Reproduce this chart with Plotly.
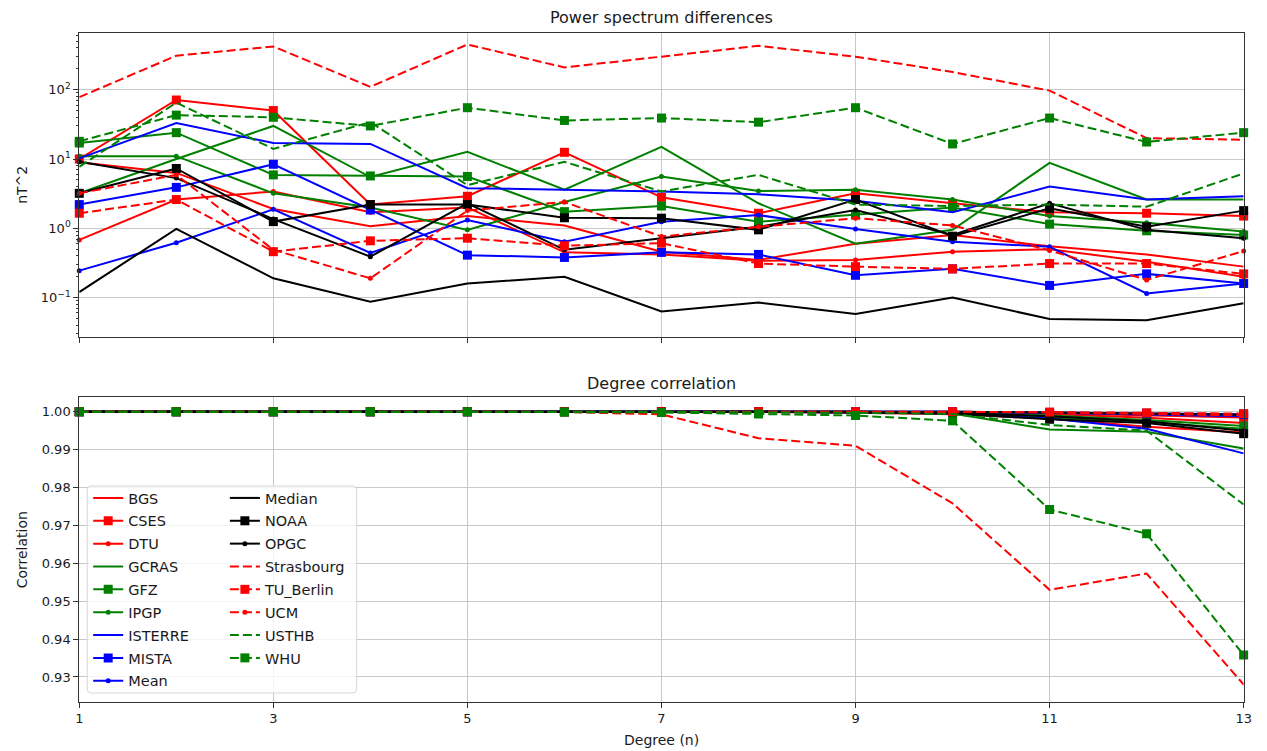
import plotly.graph_objects as go

degrees = list(range(1, 14))
x_ticks = [1, 3, 5, 7, 9, 11, 13]

centers = ["BGS", "CSES", "DTU", "GCRAS", "GFZ", "IPGP", "ISTERRE", "MISTA", "Mean",
           "Median", "NOAA", "OPGC", "Strasbourg", "TU_Berlin", "UCM", "USTHB", "WHU"]

# Power spectrum differences (nT^2) per degree 1..13
psd_BGS = [9.0, 6.3, 1.9, 1.07, 1.5, 1.1, 0.46, 0.35, 0.6, 0.8, 0.55, 0.42, 0.28]
psd_CSES = [10.0, 71, 50, 2.2, 2.9, 12.5, 2.8, 1.65, 3.2, 2.3, 1.7, 1.65, 1.5]
psd_DTU = [0.68, 2.6, 3.4, 1.7, 2.0, 0.45, 0.42, 0.34, 0.35, 0.46, 0.5, 0.33, 0.2]
psd_GCRAS = [3.2, 10, 30, 5.5, 12.7, 3.6, 15, 2.3, 0.6, 0.95, 8.8, 2.6, 2.6]
psd_GFZ = [17, 24, 5.9, 5.7, 5.6, 1.74, 2.1, 1.24, 1.56, 2.0, 1.15, 0.92, 0.8]
psd_IPGP = [11, 11, 3.2, 2.0, 0.95, 2.4, 5.6, 3.45, 3.6, 2.6, 1.5, 1.2, 0.9]
psd_ISTERRE = [10.2, 33, 17, 16.5, 3.8, 3.6, 3.4, 3.1, 2.5, 1.7, 4.0, 2.6, 2.9]
psd_MISTA = [2.2, 3.9, 8.4, 1.84, 0.41, 0.38, 0.45, 0.42, 0.21, 0.26, 0.15, 0.22, 0.16]
psd_Mean = [0.245, 0.62, 1.88, 0.44, 1.32, 0.64, 1.24, 1.55, 0.98, 0.64, 0.54, 0.115, 0.16]
psd_Median = [0.12, 0.98, 0.19, 0.087, 0.16, 0.2, 0.063, 0.085, 0.058, 0.10, 0.049, 0.047, 0.083]
psd_NOAA = [3.2, 7.3, 1.25, 2.2, 2.2, 1.42, 1.4, 0.95, 2.6, 0.77, 1.94, 1.05, 1.8]
psd_OPGC = [9.1, 5.3, 1.36, 0.39, 2.3, 0.49, 0.72, 1.05, 1.84, 0.8, 2.3, 0.95, 0.72]
psd_Strasbourg = [78, 310, 420, 110, 450, 210, 300, 430, 300, 180, 97, 20, 19]
psd_TU_Berlin = [1.65, 2.6, 0.46, 0.66, 0.72, 0.56, 0.61, 0.31, 0.28, 0.26, 0.31, 0.31, 0.22]
psd_UCM = [3.2, 5.9, 0.49, 0.19, 1.8, 2.4, 0.76, 1.05, 1.4, 1.1, 0.48, 0.18, 0.47]
psd_USTHB = [7.7, 65, 14, 34, 4.2, 9.1, 3.4, 5.9, 2.2, 2.1, 2.2, 2.05, 6.2]
psd_WHU = [18, 43, 40, 30, 55, 36, 39, 34, 55, 16.5, 39, 17.6, 24]

# Degree correlation per degree 1..13
corr_BGS = [1, 1, 1, 1, 1, 1, 1, 0.9999, 0.9997, 0.9993, 0.9982, 0.9960, 0.9945]
corr_CSES = [1, 1, 1, 1, 1, 1, 1, 1, 1, 0.9999, 0.9996, 0.9990, 0.9985]
corr_DTU = [1, 1, 1, 1, 1, 1, 1, 1, 1, 0.9998, 0.9994, 0.9984, 0.9970]
corr_GCRAS = [1, 1, 1, 1, 1, 1, 1, 1, 0.9999, 0.9995, 0.9953, 0.9947, 0.9903]
corr_GFZ = [1, 1, 1, 1, 1, 1, 1, 1, 1, 0.9999, 0.9990, 0.9978, 0.9962]
corr_IPGP = [1, 1, 1, 1, 1, 1, 1, 1, 1, 0.9998, 0.9985, 0.9972, 0.9955]
corr_ISTERRE = [1, 1, 1, 1, 1, 1, 1, 1, 0.9998, 0.9995, 0.9982, 0.9955, 0.9890]
corr_MISTA = [1, 1, 1, 1, 1, 1, 1, 1, 1, 1, 0.9998, 0.9996, 0.9993]
corr_Mean = [1, 1, 1, 1, 1, 1, 1, 1, 1, 1, 0.9997, 0.9993, 0.9988]
corr_Median = [1, 1, 1, 1, 1, 1, 1, 1, 1, 1, 0.9998, 0.9995, 0.9992]
corr_NOAA = [1, 1, 1, 1, 1, 1, 1, 1, 0.9998, 0.9995, 0.9980, 0.9970, 0.9942]
corr_OPGC = [1, 1, 1, 1, 1, 1, 1, 1, 1, 0.9997, 0.9988, 0.9975, 0.9950]
corr_Strasbourg = [1, 1, 1, 1, 1, 0.9999, 0.9993, 0.9930, 0.9910, 0.9758, 0.9530, 0.9573, 0.9280]
corr_TU_Berlin = [1, 1, 1, 1, 1, 1, 1, 1, 1, 1, 0.9999, 0.9997, 0.9995]
corr_UCM = [1, 1, 1, 1, 1, 1, 1, 1, 1, 1, 0.9998, 0.9994, 0.9990]
corr_USTHB = [1, 1, 1, 1, 1, 1, 1, 0.9998, 0.9997, 0.9994, 0.9965, 0.9950, 0.9755]
corr_WHU = [1, 1, 1, 1, 1, 0.9999, 0.9998, 0.9994, 0.9990, 0.9976, 0.9742, 0.9678, 0.9358]

psd = {"BGS": psd_BGS, "CSES": psd_CSES, "DTU": psd_DTU, "GCRAS": psd_GCRAS, "GFZ": psd_GFZ,
       "IPGP": psd_IPGP, "ISTERRE": psd_ISTERRE, "MISTA": psd_MISTA, "Mean": psd_Mean,
       "Median": psd_Median, "NOAA": psd_NOAA, "OPGC": psd_OPGC, "Strasbourg": psd_Strasbourg,
       "TU_Berlin": psd_TU_Berlin, "UCM": psd_UCM, "USTHB": psd_USTHB, "WHU": psd_WHU}
corr = {"BGS": corr_BGS, "CSES": corr_CSES, "DTU": corr_DTU, "GCRAS": corr_GCRAS, "GFZ": corr_GFZ,
        "IPGP": corr_IPGP, "ISTERRE": corr_ISTERRE, "MISTA": corr_MISTA, "Mean": corr_Mean,
        "Median": corr_Median, "NOAA": corr_NOAA, "OPGC": corr_OPGC, "Strasbourg": corr_Strasbourg,
        "TU_Berlin": corr_TU_Berlin, "UCM": corr_UCM, "USTHB": corr_USTHB, "WHU": corr_WHU}

RED, GREEN, BLUE, BLACK = "#ff0000", "#008000", "#0000ff", "#000000"
DASH = "9px,4px"
styles = {
    "BGS": (RED, "solid", None), "CSES": (RED, "solid", "square"), "DTU": (RED, "solid", "circle"),
    "GCRAS": (GREEN, "solid", None), "GFZ": (GREEN, "solid", "square"), "IPGP": (GREEN, "solid", "circle"),
    "ISTERRE": (BLUE, "solid", None), "MISTA": (BLUE, "solid", "square"), "Mean": (BLUE, "solid", "circle"),
    "Median": (BLACK, "solid", None), "NOAA": (BLACK, "solid", "square"), "OPGC": (BLACK, "solid", "circle"),
    "Strasbourg": (RED, DASH, None), "TU_Berlin": (RED, DASH, "square"), "UCM": (RED, DASH, "circle"),
    "USTHB": (GREEN, DASH, None), "WHU": (GREEN, DASH, "square"),
}

fig = go.Figure()
for i, name in enumerate(centers):
    color, dash, sym = styles[name]
    mode = "lines" if sym is None else "lines+markers"
    marker = dict(symbol=sym or "circle", size=9 if sym == "square" else 5, color=color,
                  line=dict(width=0))
    line = dict(color=color, width=2, dash=dash)
    fig.add_trace(go.Scatter(x=degrees, y=psd[name], mode=mode, name=name, line=line, marker=marker,
                             xaxis="x", yaxis="y", showlegend=False, cliponaxis=False))
    fig.add_trace(go.Scatter(x=degrees, y=corr[name], mode=mode, name=name, line=line, marker=marker,
                             xaxis="x2", yaxis="y2", cliponaxis=False,
                             legend="legend" if i < 9 else "legend2", legendgroup=name))

W, H = 1267, 751
L, R = 76, 1251.5
T1, B1 = 33.3, 336.7
T2, B2 = 397.3, 701.7

def px(x):
    return x / W

def py(y):
    return 1 - y / H

FONT = "DejaVu Sans, Verdana, sans-serif"
TXT = "#1a1a1a"
GRID = "#c8c8c8"
AX = "#333333"

minor_vals = [m * 10 ** e for e in range(-2, 3) for m in range(2, 10)]
common_x = dict(range=[1, 13], tickvals=x_ticks, showgrid=True, gridcolor=GRID, gridwidth=1,
                showline=True, mirror=True, linecolor=AX, linewidth=1, ticks="outside",
                ticklen=5, tickcolor=AX, zeroline=False, domain=[px(L), px(R)],
                tickfont=dict(family=FONT, size=13, color=TXT))

fig.update_layout(
    width=W, height=H, margin=dict(l=0, r=0, t=0, b=0),
    paper_bgcolor="white", plot_bgcolor="white", showlegend=True,
    xaxis=dict(**common_x, anchor="y", showticklabels=False),
    yaxis=dict(type="log", range=[-1.564, 2.814], domain=[py(B1), py(T1)], anchor="x",
               tickvals=[0.1, 1, 10, 100],
               ticktext=["10<sup>−1</sup>", "10<sup>0</sup>", "10<sup>1</sup>", "10<sup>2</sup>"],
               showgrid=True, gridcolor=GRID, showline=True, mirror=True, linecolor=AX, linewidth=1,
               ticks="outside", ticklen=5, tickcolor=AX, zeroline=False,
               tickfont=dict(family=FONT, size=13, color=TXT),
               minor=dict(tickvals=minor_vals, ticks="outside", ticklen=2.5, tickcolor=AX, showgrid=False)),
    xaxis2=dict(**common_x, anchor="y2", showticklabels=True),
    yaxis2=dict(range=[0.92348, 1.0038], domain=[py(B2), py(T2)], anchor="x2",
                tickvals=[0.93, 0.94, 0.95, 0.96, 0.97, 0.98, 0.99, 1.00], tickformat=".2f",
                showgrid=True, gridcolor=GRID, showline=True, mirror=True, linecolor=AX, linewidth=1,
                ticks="outside", ticklen=5, tickcolor=AX, zeroline=False,
                tickfont=dict(family=FONT, size=13, color=TXT)),
    legend=dict(x=px(85), y=py(482), xanchor="left", yanchor="top", bgcolor="rgba(0,0,0,0)",
                borderwidth=0, font=dict(family=FONT, size=14.5, color=TXT), tracegroupgap=1,
                itemclick=False, itemdoubleclick=False),
    legend2=dict(x=px(223), y=py(482), xanchor="left", yanchor="top", bgcolor="rgba(0,0,0,0)",
                 borderwidth=0, font=dict(family=FONT, size=14.5, color=TXT), tracegroupgap=1,
                 itemclick=False, itemdoubleclick=False),
)

# legend frame (rounded)
x0, x1, y0, y1 = 84, 356, 486, 693
r = 4
path = (f"M {px(x0 + r)},{py(y0)} L {px(x1 - r)},{py(y0)} Q {px(x1)},{py(y0)} {px(x1)},{py(y0 + r)} "
        f"L {px(x1)},{py(y1 - r)} Q {px(x1)},{py(y1)} {px(x1 - r)},{py(y1)} "
        f"L {px(x0 + r)},{py(y1)} Q {px(x0)},{py(y1)} {px(x0)},{py(y1 - r)} "
        f"L {px(x0)},{py(y0 + r)} Q {px(x0)},{py(y0)} {px(x0 + r)},{py(y0)} Z")
fig.add_shape(type="path", path=path, xref="paper", yref="paper", layer="above",
              fillcolor="rgba(255,255,255,0.8)", line=dict(color="#d6d6d6", width=1))

cx = px((L + R) / 2)
fig.add_annotation(text="Power spectrum differences", x=cx, y=py(18), xref="paper", yref="paper",
                   showarrow=False, font=dict(family=FONT, size=16, color=TXT), xanchor="center", yanchor="middle")
fig.add_annotation(text="Degree correlation", x=cx, y=py(383), xref="paper", yref="paper",
                   showarrow=False, font=dict(family=FONT, size=16, color=TXT), xanchor="center", yanchor="middle")
fig.add_annotation(text="nT^2", x=px(18), y=py((T1 + B1) / 2), xref="paper", yref="paper", textangle=-90,
                   showarrow=False, font=dict(family=FONT, size=14, color=TXT), xanchor="center", yanchor="middle")
fig.add_annotation(text="Correlation", x=px(18), y=py((T2 + B2) / 2), xref="paper", yref="paper", textangle=-90,
                   showarrow=False, font=dict(family=FONT, size=14, color=TXT), xanchor="center", yanchor="middle")
fig.add_annotation(text="Degree (n)", x=cx, y=py(740), xref="paper", yref="paper",
                   showarrow=False, font=dict(family=FONT, size=14, color=TXT), xanchor="center", yanchor="middle")

fig.write_html("out.html")
